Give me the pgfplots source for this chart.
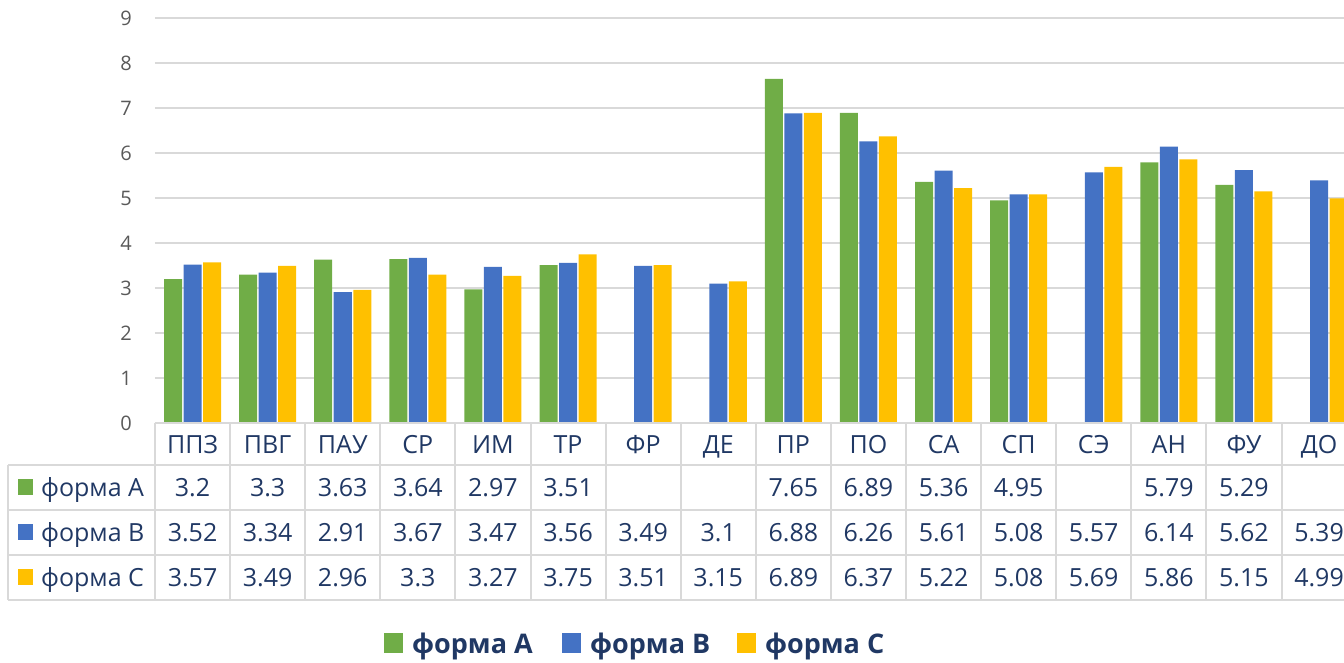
\documentclass[border=0pt]{standalone}
\usepackage{fontspec}
\setmainfont{Open Sans}
\usepackage{pgfplots}
\usepackage{pgfplotstable}
\pgfplotsset{compat=1.18}

\definecolor{fA}{HTML}{70AD47}
\definecolor{fB}{HTML}{4472C4}
\definecolor{fC}{HTML}{FFC000}
\definecolor{gridc}{HTML}{D9D9D9}
\definecolor{tickc}{HTML}{595959}
\definecolor{txt}{HTML}{203864}

\pgfplotstableread{
x lab A B C
0 ППЗ 3.2 3.52 3.57
1 ПВГ 3.3 3.34 3.49
2 ПАУ 3.63 2.91 2.96
3 СР 3.64 3.67 3.3
4 ИМ 2.97 3.47 3.27
5 ТР 3.51 3.56 3.75
6 ФР nan 3.49 3.51
7 ДЕ nan 3.1 3.15
8 ПР 7.65 6.88 6.89
9 ПО 6.89 6.26 6.37
10 СА 5.36 5.61 5.22
11 СП 4.95 5.08 5.08
12 СЭ nan 5.57 5.69
13 АН 5.79 6.14 5.86
14 ФУ 5.29 5.62 5.15
15 ДО nan 5.39 4.99
}\datatable

\newcommand\tfont{\fontsize{25}{30}\selectfont}
\def\nanstr{nan}
% one cell of the data table: row index, column, baseline
\newcommand\cell[3]{%
  \pgfplotstablegetelem{#1}{#2}\of\datatable
  \edef\cellval{\pgfplotsretval}%
  \ifx\cellval\nanstr\else
    \edef\temp{\noexpand\node[cellnode] at (axis cs:#1,#3) {\cellval};}\temp
  \fi}

\begin{document}
\begin{tikzpicture}[
  tbl/.style={draw=gridc, line width=2pt},
  cellnode/.style={anchor=base, inner sep=0pt, text=txt, font=\tfont},
  ]
\begin{axis}[
  x=75.1pt, y=45pt,
  xmin=-0.5, xmax=15.5, ymin=0, ymax=9,
  ybar=1.5pt, bar width=18pt,
  axis line style={draw=none},
  tick style={draw=none},
  xtick=\empty, ytick={0,...,9},
  ymajorgrids, grid style={draw=gridc, line width=1.3pt},
  yticklabel style={font=\fontsize{20}{24}\selectfont, text=tickc,
    inner sep=0pt, xshift=-23pt},
  /pgf/number format/assume math mode=true,
  clip=false,
  ]
\addplot[fill=fA, draw=none] table[x=x, y=A] \datatable;
\addplot[fill=fB, draw=none] table[x=x, y=B] \datatable;
\addplot[fill=fC, draw=none] table[x=x, y=C] \datatable;

\coordinate (O) at (axis cs:-0.5,0);

% data table grid
\draw[tbl] (axis cs:-0.5,0) -- (axis cs:15.5,0);
\draw[tbl] (axis cs:-2.457,-0.933) -- (axis cs:15.5,-0.933);
\draw[tbl] (axis cs:-2.457,-1.933) -- (axis cs:15.5,-1.933);
\draw[tbl] (axis cs:-2.457,-2.933) -- (axis cs:15.5,-2.933);
\draw[tbl] (axis cs:-2.457,-3.933) -- (axis cs:15.5,-3.933);
\draw[tbl] (axis cs:-2.457,-0.933) -- (axis cs:-2.457,-3.933);
\pgfplotsinvokeforeach{-0.5,0.5,...,15.5}{
  \draw[tbl] (axis cs:#1,0) -- (axis cs:#1,-3.933);
}

% header and values
\pgfplotsinvokeforeach{0,...,15}{
  \cell{#1}{lab}{-0.674}
  \cell{#1}{A}{-1.644}
  \cell{#1}{B}{-2.637}
  \cell{#1}{C}{-3.637}
}

% series names in the table
\fill[fA] (axis cs:-2.324,-1.244) rectangle (axis cs:-2.124,-1.6);
\fill[fB] (axis cs:-2.324,-2.244) rectangle (axis cs:-2.124,-2.6);
\fill[fC] (axis cs:-2.324,-3.244) rectangle (axis cs:-2.124,-3.6);
\node[cellnode, anchor=base west] at (axis cs:-2.018,-1.644) {форма А};
\node[cellnode, anchor=base west] at (axis cs:-2.018,-2.637) {форма В};
\node[cellnode, anchor=base west] at (axis cs:-2.018,-3.637) {форма С};

% legend
\fill[fA] (axis cs:2.549,-4.667) rectangle (axis cs:2.802,-5.111);
\fill[fB] (axis cs:4.919,-4.667) rectangle (axis cs:5.172,-5.111);
\fill[fC] (axis cs:7.250,-4.667) rectangle (axis cs:7.503,-5.111);
\node[cellnode, anchor=base west, font=\fontsize{27}{32}\bfseries] at (axis cs:2.922,-5.111) {форма А};
\node[cellnode, anchor=base west, font=\fontsize{27}{32}\bfseries] at (axis cs:5.292,-5.111) {форма В};
\node[cellnode, anchor=base west, font=\fontsize{27}{32}\bfseries] at (axis cs:7.622,-5.111) {форма С};
\end{axis}
\pgfresetboundingbox
\path (O) ++(-155pt,423pt) rectangle ++(1344pt,-662pt);
\end{tikzpicture}
\end{document}
